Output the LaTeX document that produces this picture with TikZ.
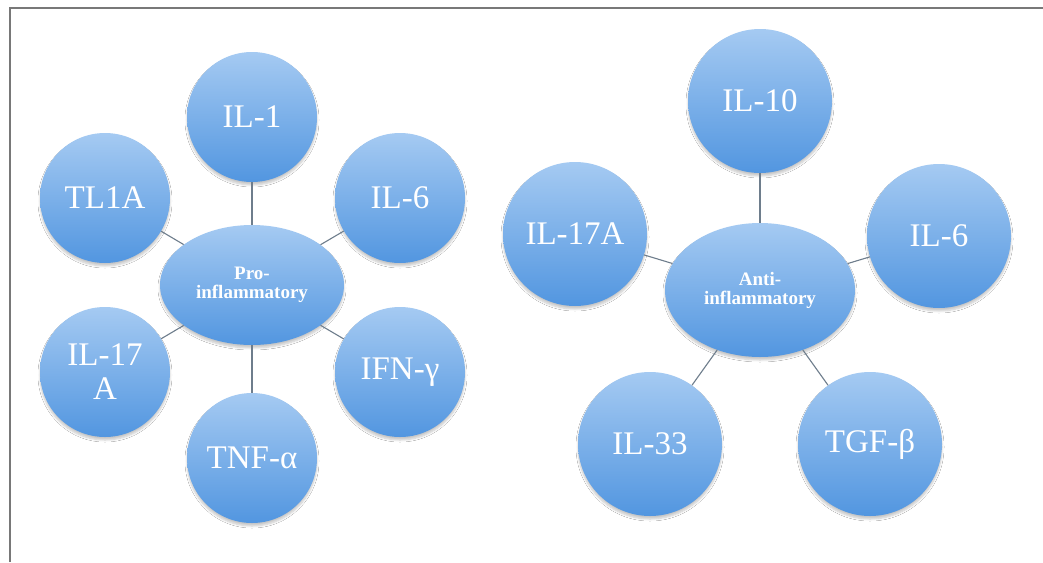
\documentclass[tikz,border=0pt]{standalone}
\usepackage{fontspec}
\setmainfont{Liberation Serif}
\usetikzlibrary{shapes.geometric,shadows.blur}

\definecolor{bubbletop}{RGB}{165,202,242}
\definecolor{bubblebot}{RGB}{82,150,224}
\definecolor{linkgray}{RGB}{110,125,140}
\definecolor{framegray}{RGB}{120,120,120}

\tikzset{
  softshadow/.style={blur shadow={shadow xshift=0pt, shadow yshift=-3pt,
    shadow blur radius=2pt, shadow blur steps=6, shadow opacity=22}},
  bubble/.style={circle, inner sep=0pt, minimum size=#1,
    top color=bubbletop, bottom color=bubblebot, draw=none, softshadow,
    text=white, align=center,
    font=\fontsize{33}{34}\selectfont},
  hub/.style={ellipse, inner sep=0pt, minimum width=#1,
    top color=bubbletop, bottom color=bubblebot, draw=none, softshadow,
    text=white, align=center,
    font=\fontsize{19}{19}\selectfont\bfseries},
  link/.style={draw=linkgray, line width=1.1pt},
}

\begin{document}
\begin{tikzpicture}[x=1pt,y=-1pt]
  \useasboundingbox (0,0) rectangle (1043,562);
  \fill[white] (0,0) rectangle (1043,562);

  % open frame along the top and left edges
  \draw[framegray, line width=2.2pt] (10,562) -- (10,8) -- (1043,8);

  % pro-inflammatory cluster
  \node[hub=184pt, minimum height=120pt] (pro) at (252,285) {Pro-\\inflammatory};
  \node[bubble=130pt] (il1)   at (252,117) {IL-1};
  \node[bubble=130pt] (tl1a)  at (105,198) {TL1A};
  \node[bubble=130pt] (il6a)  at (400,198) {IL-6};
  \node[bubble=130pt] (il17a) at (105,372) {IL-17\\A};
  \node[bubble=130pt] (ifng)  at (400,372) {IFN-γ};
  \node[bubble=130pt] (tnfa)  at (252,458) {TNF-α};

  \foreach \n in {il1,tl1a,il6a,il17a,ifng,tnfa}
    \draw[link] (pro) -- (\n);

  % anti-inflammatory cluster
  \node[hub=190pt, minimum height=134pt] (anti) at (760,290) {Anti-\\inflammatory};
  \node[bubble=144pt] (il10)  at (760,101) {IL-10};
  \node[bubble=144pt] (il17b) at (575,234) {IL-17A};
  \node[bubble=144pt] (il6b)  at (939,236) {IL-6};
  \node[bubble=144pt] (il33)  at (650,444) {IL-33};
  \node[bubble=144pt] (tgfb)  at (870,444) {TGF-β};

  \foreach \n in {il10,il17b,il6b,il33,tgfb}
    \draw[link] (anti) -- (\n);
\end{tikzpicture}
\end{document}
